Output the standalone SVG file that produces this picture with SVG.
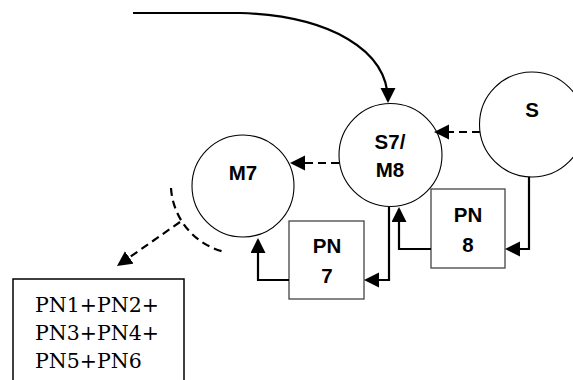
<svg xmlns="http://www.w3.org/2000/svg" width="573" height="380" viewBox="0 0 573 380">
<defs>
<marker id="ah" markerUnits="userSpaceOnUse" markerWidth="17" markerHeight="17" refX="13" refY="7.5" orient="auto"><path d="M0,0 L15,7.5 L0,15 z" fill="#000"/></marker>
<style>
.node{fill:#fff;stroke:#000;stroke-width:1.1}
.box{fill:#fff;stroke:#444;stroke-width:1.3}
.lbl{font-family:"Liberation Sans",Arial,sans-serif;font-weight:bold;font-size:20.5px;text-anchor:middle;fill:#000}
.con{fill:none;stroke:#000;stroke-width:2.2}
.dash{fill:none;stroke:#000;stroke-width:2.2;stroke-dasharray:8 5}
.serif{font-family:"DejaVu Serif",serif;font-size:20.5px;fill:#000}
</style>
</defs>
<rect width="573" height="380" fill="#fff"/>
<g id="M7"><circle class="node" cx="243" cy="186" r="51"/><text class="lbl" x="243" y="180">M7</text></g>
<g id="S7M8"><circle class="node" cx="390.5" cy="155" r="51.5"/><text class="lbl" x="390" y="149">S7/</text><text class="lbl" x="390" y="177">M8</text></g>
<g id="S"><circle class="node" cx="532" cy="124.5" r="52.5"/><text class="lbl" x="532" y="117">S</text></g>
<g id="PN7"><rect class="box" x="289" y="221" width="75" height="78"/><text class="lbl" x="327" y="253">PN</text><text class="lbl" x="327" y="283">7</text></g>
<g id="PN8"><rect class="box" x="431" y="189" width="74" height="79"/><text class="lbl" x="468" y="222">PN</text><text class="lbl" x="468" y="252">8</text></g>
<g id="PNsum"><rect fill="#fff" stroke="#000" stroke-width="1.5" x="13" y="279" width="171" height="110"/>
<text class="serif" x="35" y="312">PN1+PN2+</text><text class="serif" x="35" y="340">PN3+PN4+</text><text class="serif" x="35" y="368">PN5+PN6</text></g>
<g id="connectors">
<path class="con" d="M133 13 L240 13 C330 16 388 50 388 101" marker-end="url(#ah)"/>
<path class="dash" d="M480 132 L436 132" marker-end="url(#ah)"/>
<path class="dash" d="M339 163 L292 163" marker-end="url(#ah)"/>
<path class="con" d="M529 177 L529 249 L507 249" marker-end="url(#ah)"/>
<path class="con" d="M431 249 L399 249 L399 209" marker-end="url(#ah)"/>
<path class="con" d="M389 207 L389 280 L366 280" marker-end="url(#ah)"/>
<path class="con" d="M289 280 L258 280 L258 240" marker-end="url(#ah)"/>
<path class="dash" d="M171 188 A70 70 0 0 0 225 252"/>
<path class="dash" d="M180 222 L118.6 264.9" marker-end="url(#ah)"/>
</g>
</svg>
